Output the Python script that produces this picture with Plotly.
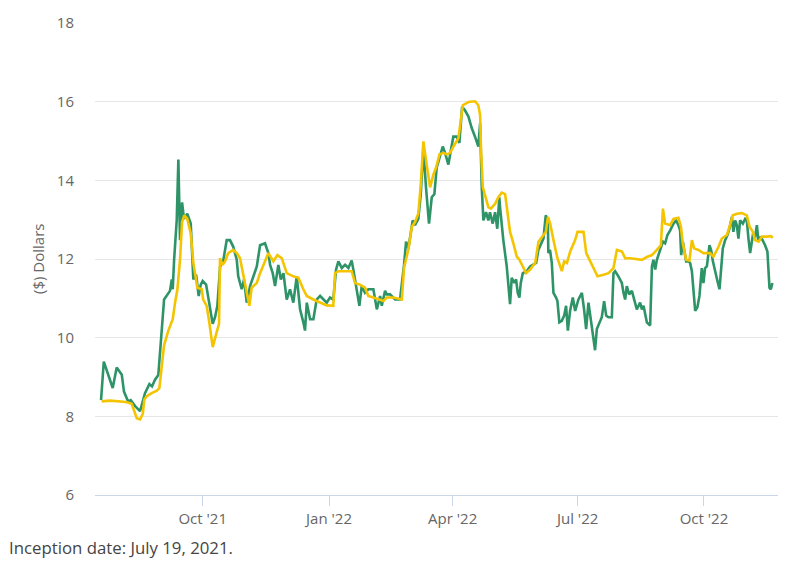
import pandas as pd
import plotly.graph_objects as go

inception = pd.Timestamp("2021-07-19")

# days since inception, value ($) -- series 1 (green)
green_days = [0, 2, 8.5, 11.4, 15.1, 16.7, 19.7, 21.6, 24.8, 28.4, 32, 35.2, 37.1, 39.3, 41.7, 43.7,
              45.9, 50.2, 51.5, 52.2, 53.2, 55.1, 56.3, 57.5, 59, 60.4, 62.8, 65.3, 67.2, 69.2, 71.1,
              72.6, 74, 76.5, 78.9, 81.3, 83, 84.7, 86.7, 89.1, 91.5, 93.9, 96.3, 98.8, 99.9, 102.4,
              104.1, 106.1, 108.5, 110.9, 113.4, 115.8, 119.4, 121.8, 123.1, 125, 126.7, 129.1, 130.9,
              132.8, 135.2, 137.6, 140, 142.5, 144.9, 147.3, 148.5, 149.8, 152.2, 154.6, 157, 159.5,
              161.9, 164.3, 166.7, 169.1, 171.1, 172.8, 175.3, 177.7, 180.1, 182.5, 183.7, 186.2,
              188.1, 189.8, 192.2, 194.6, 198.3, 200.8, 203.2, 204.4, 206.8, 208, 210.4, 214.1, 217.7,
              220.6, 222.1, 223.8, 225.7, 226.9, 228.6, 231, 232.8, 234.7, 236.6, 238.8, 240.8, 242.7,
              244.4, 246.8, 248.8, 250.5, 252.9, 254.6, 256.5, 259, 260.9, 262.9, 265, 267.5, 269.9,
              272.3, 274.7, 276, 277.2, 278.4, 280.3, 282, 283.2, 285.2, 286.9, 288.5, 290, 290.5,
              292.9, 295.4, 297.8, 299, 300.9, 302.2, 303.4, 304.6, 305.6, 307.1, 310, 312.4, 314.8,
              316.8, 318.4, 320.4, 322.1, 323.8, 325.3, 325.7, 326.9, 328.2, 329.4, 331.3, 332.3,
              333.7, 335.5, 337.2, 338.6, 339.9, 341.5, 343.5, 345.2, 347.6, 350.1, 351.7, 353.2,
              354.9, 356.6, 358.5, 359.7, 361, 362.9, 364.6, 366.3, 367.8, 369.4, 371.9, 373.1, 374.3,
              376.7, 379.2, 380.4, 381.6, 382.8, 384.5, 386.5, 388.2, 390.1, 392.5, 393.8, 395, 396.2,
              397.4, 399.8, 401.1, 402.2, 403.5, 404.7, 407.1, 409.1, 410.7, 412.4, 414.4, 416.8,
              418.7, 420.4, 421.6, 422.4, 423.6, 424.8, 426, 427.7, 428.9, 430.2, 431.3, 432.6, 434.2,
              435.7, 437.4, 438.6, 439.8, 441.1, 443, 444.2, 445.5, 447.1, 448.8, 450.3, 451.5, 452.7,
              454.4, 456.1, 457.5, 459.3, 460.4, 461.7, 462.9, 464.1, 465.3, 467.3, 469, 470.2, 471.4,
              472.6, 474.6, 476.3, 477.5, 478.7, 480.4, 481.9, 483.5, 485.2, 486.7, 487.7, 488.8]
green_vals = [8.41, 9.39, 8.72, 9.24, 9.06, 8.63, 8.38, 8.41, 8.26, 8.13, 8.59, 8.82, 8.76, 8.93, 9.05, 9.89,
              10.97, 11.19, 11.48, 11.23, 11.98, 12.98, 14.53, 12.48, 13.44, 13.02, 13.15, 12.9, 11.48,
              11.60, 11.06, 11.35, 11.44, 11.35, 10.81, 10.35, 10.52, 10.81, 11.81, 11.98, 12.48, 12.48,
              12.31, 11.98, 11.56, 11.23, 11.48, 10.89, 11.31, 11.56, 11.81, 12.35, 12.40, 12.15, 11.85,
              11.64, 11.31, 11.85, 11.48, 11.64, 10.97, 11.23, 10.89, 11.56, 10.72, 10.39, 10.18, 10.89,
              10.47, 10.47, 10.97, 11.06, 10.97, 10.89, 11.02, 10.97, 11.73, 11.94, 11.77, 11.85, 11.77,
              11.96, 11.73, 11.23, 10.81, 11.31, 11.14, 11.23, 11.23, 10.72, 11.06, 10.81, 11.19, 11.10,
              11.10, 10.97, 10.97, 11.85, 12.44, 12.27, 12.73, 12.98, 12.86, 13.02, 13.65, 14.82, 13.82,
              12.90, 13.57, 13.65, 14.32, 14.61, 14.86, 14.70, 14.40, 14.74, 15.11, 15.11, 14.95, 15.87,
              15.78, 15.62, 15.33, 15.11, 14.86, 15.45, 13.82, 12.98, 13.19, 12.98, 13.19, 12.90, 13.19,
              12.77, 13.57, 13.32, 12.48, 11.81, 10.85, 11.52, 11.39, 11.48, 11.14, 11.02, 11.39, 11.64,
              11.69, 11.81, 11.85, 11.90, 12.23, 12.40, 12.52, 13.11, 12.98, 12.15, 12.23, 11.90, 11.14,
              11.02, 10.93, 10.39, 10.43, 10.56, 10.81, 10.18, 10.68, 11.02, 10.68, 10.97, 11.14, 10.72,
              10.22, 10.89, 10.47, 10.10, 9.68, 10.22, 10.39, 10.52, 10.93, 10.56, 10.52, 10.52, 11.64,
              11.69, 11.56, 11.39, 11.14, 10.97, 11.31, 11.10, 11.19, 10.93, 10.72, 10.89, 10.72, 10.81,
              10.56, 10.39, 10.31, 11.81, 11.98, 11.73, 11.98, 12.23, 12.44, 12.40, 12.61, 12.73, 12.90,
              12.98, 12.86, 12.73, 12.10, 12.44, 12.23, 11.94, 11.94, 11.90, 11.69, 11.31, 10.68, 10.77,
              11.06, 11.77, 11.39, 11.77, 11.81, 12.35, 12.23, 11.94, 11.73, 11.44, 11.23, 11.90, 12.27,
              12.48, 12.61, 12.77, 13.07, 12.69, 12.98, 12.86, 12.52, 12.98, 12.90, 13.02, 12.98, 12.52,
              12.15, 12.61, 12.57, 12.86, 12.44, 12.57, 12.48, 12.35, 12.19, 11.27, 11.23, 11.39]

# series 2 (yellow)
yellow_days = [0.5, 6.6, 16.2, 18.9, 22.3, 24.8, 26, 28.4, 30.4, 31.5, 33.3, 36.9, 40.6, 42.5, 43.5, 45.9,
               49, 52.2, 53.9, 55.6, 57.5, 59, 60.6, 62.8, 65.3, 67.2, 70.1, 73.3, 74.4, 76.9, 78.8, 81.3,
               84.2, 85.9, 86.6, 88.6, 90.3, 92.6, 96.3, 98.8, 101.2, 103.6, 106.1, 108, 109.7, 113.4,
               115.8, 118.2, 121.8, 125.5, 128.4, 131.6, 135.2, 140, 143.7, 147.3, 149.8, 154.6, 159.5,
               164.3, 169.1, 170.4, 172.8, 182.5, 184.9, 188.5, 192.2, 194.6, 198.3, 203.2, 205.6, 208,
               212.9, 219, 220.6, 223.8, 226.3, 228.6, 231, 232.8, 234.7, 237.1, 239.6, 242, 243.9, 246.4,
               249.3, 251.8, 254.2, 256.6, 260.2, 263.4, 267.5, 272.3, 274.7, 276, 276.7, 278, 279.6, 282,
               283.8, 286.9, 289.3, 291.8, 294.2, 295.9, 297.8, 300.2, 302.7, 304.6, 306.4, 309.5, 312.4,
               316.1, 318.5, 321, 323.9, 325.4, 327, 329.4, 332.3, 335.5, 337.2, 339.2, 341.6, 345.2,
               346.9, 351.3, 353.3, 356.2, 359.8, 361.5, 365.9, 369.5, 373.1, 375.6, 379.3, 381.6, 385.3,
               390.2, 393.8, 397.4, 401.1, 404.7, 407.6, 409.1, 410.7, 414.4, 416.8, 420.4, 422.2, 423.6,
               426, 428.4, 430.2, 431.8, 435, 438.6, 443.5, 445.9, 449.6, 452, 455.7, 457.6, 460, 463,
               466.6, 470.2, 472.2, 474.6, 476.3, 478.7, 481.2, 484.8, 487.7, 489.1]
yellow_vals = [8.38, 8.40, 8.37, 8.36, 8.32, 8.09, 7.95, 7.92, 8.06, 8.43, 8.51, 8.59, 8.65, 8.72, 9.05, 9.81,
               10.18, 10.47, 10.89, 11.23, 11.98, 12.94, 13.11, 13.02, 12.65, 11.90, 11.27, 11.23, 10.97,
               10.81, 10.39, 9.76, 10.14, 10.35, 12.02, 11.85, 11.94, 12.15, 12.23, 12.15, 12.02, 11.56,
               11.14, 10.81, 11.27, 11.39, 11.64, 11.85, 12.15, 11.94, 12.10, 12.02, 11.64, 11.56, 11.52,
               11.23, 11.06, 10.97, 10.89, 10.82, 10.81, 11.64, 11.69, 11.69, 11.39, 11.35, 11.27, 11.06,
               11.02, 10.97, 10.93, 11.02, 11.02, 10.97, 11.77, 12.25, 12.82, 12.94, 13.15, 13.90, 14.99,
               14.40, 13.82, 14.15, 14.32, 14.66, 14.70, 14.66, 14.70, 14.86, 15.07, 15.91, 15.99, 16.01,
               15.91, 15.66, 14.74, 13.82, 13.61, 13.32, 13.28, 13.40, 13.57, 13.69, 13.65, 13.23, 12.69,
               12.40, 12.06, 11.98, 11.85, 11.64, 11.73, 11.90, 12.44, 12.57, 12.69, 13.07, 12.90, 12.48,
               12.02, 11.69, 11.94, 11.90, 12.19, 12.48, 12.69, 12.69, 12.15, 11.94, 11.69, 11.56, 11.60,
               11.64, 11.77, 12.23, 12.19, 12.02, 12.02, 12.00, 11.98, 12.05, 12.10, 12.23, 12.35, 13.28,
               12.90, 12.86, 13.02, 13.05, 12.82, 12.40, 11.98, 11.96, 12.48, 12.27, 12.23, 12.15, 12.15,
               12.06, 12.31, 12.52, 12.61, 12.82, 13.11, 13.15, 13.17, 13.11, 12.82, 12.69, 12.48, 12.44,
               12.57, 12.57, 12.58, 12.54]

tick_dates = ["2021-10-01", "2022-01-01", "2022-04-01", "2022-07-01", "2022-10-01"]
tick_labels = ["Oct '21", "Jan '22", "Apr '22", "Jul '22", "Oct '22"]
y_ticks = [6, 8, 10, 12, 14, 16, 18]

green_x = inception + pd.to_timedelta(green_days, unit="D")
yellow_x = inception + pd.to_timedelta(yellow_days, unit="D")

fig = go.Figure()
fig.add_trace(go.Scatter(x=green_x, y=green_vals, mode="lines",
                         line=dict(color="#2e9468", width=2.6), showlegend=False))
fig.add_trace(go.Scatter(x=yellow_x, y=yellow_vals, mode="lines",
                         line=dict(color="#f5c400", width=2.6), showlegend=False))

font_family = "Open Sans"
fig.update_layout(
    width=800, height=564,
    margin=dict(l=95, r=22, t=17, b=69),
    paper_bgcolor="white", plot_bgcolor="white",
    font=dict(family=font_family, color="#666666", size=15),
    xaxis=dict(
        range=[inception - pd.Timedelta(days=4.4), inception + pd.Timedelta(days=492.9)],
        tickvals=tick_dates, ticktext=tick_labels,
        showgrid=False, showline=True, linecolor="#ccd6eb", linewidth=1,
        ticks="outside", ticklen=10, tickcolor="#ccd6eb", tickwidth=1,
        tickfont=dict(size=15, color="#666666"), zeroline=False,
    ),
    yaxis=dict(
        range=[6, 18], tickvals=y_ticks,
        showgrid=True, gridcolor="#e6e6e6", gridwidth=1,
        zeroline=False, showline=False, ticks="",
        ticklabelstandoff=20,
        tickfont=dict(size=15, color="#666666"),
    ),
    annotations=[
        dict(text="($) Dollars", xref="paper", yref="paper", x=-0.0835, y=0.5,
             textangle=-90, showarrow=False, font=dict(size=15, color="#666666"),
             xanchor="center", yanchor="middle"),
        dict(text="Inception date: July 19, 2021.", xref="paper", yref="paper",
             x=-0.1288, y=-0.111, xanchor="left", yanchor="middle", showarrow=False,
             font=dict(size=16.8, color="#444444")),
    ],
)

fig.write_html("out.html")
